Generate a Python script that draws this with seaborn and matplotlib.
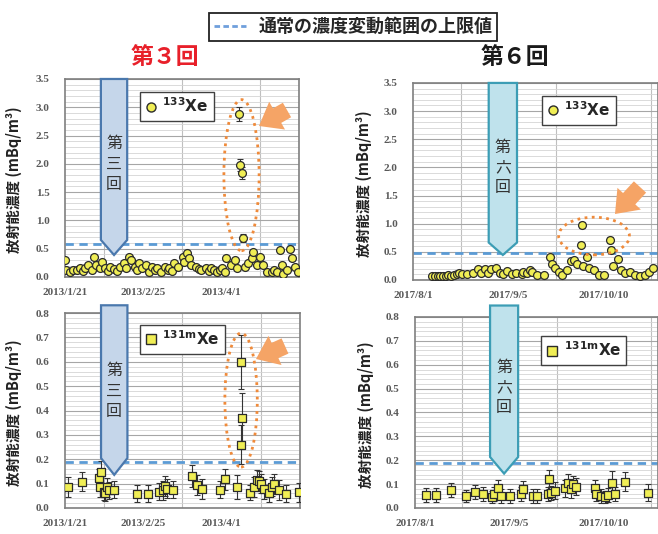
import numpy as np
import pandas as pd
import seaborn as sns
import matplotlib.pyplot as plt
import matplotlib.dates as mdates
import matplotlib.transforms as mtrans
from matplotlib.patches import Polygon, Ellipse, FancyArrowPatch
from matplotlib.lines import Line2D
from matplotlib.ticker import FixedLocator, MultipleLocator, FormatStrFormatter

sns.set_style('white')
plt.rcParams['font.family'] = ['Noto Sans CJK JP', 'DejaVu Sans']
plt.rcParams['mathtext.fontset'] = 'dejavusans'

# ---- data (days after the first tick date) ----
start_3 = '2013-01-21'
start_6 = '2017-08-01'
ticks_3 = ['2013/1/21', '2013/2/25', '2013/4/1']
ticks_6 = ['2017/8/1', '2017/9/5', '2017/10/10']
test_day_3 = 22   # 2013/2/12
test_day_6 = 33   # 2017/9/3

# 133Xe, 3rd test
xe133_3_day = [0, 0.4, 2.2, 3.5, 5.3, 6.8, 8, 9, 10.5, 12, 12.8, 14, 15.5, 16.6, 18, 19.2,
               20.4, 22, 23.2, 24.5, 26.4, 27.5, 28.6, 29.7, 31.2, 32.2, 33.2, 34.7, 36.2,
               37.7, 39.2, 40.3, 41.5, 43, 44.8, 46, 46.8, 48, 49, 50.9, 52.8, 53.5, 54.8,
               55.6, 56.5, 58.8, 60, 61, 63.3, 64.5, 65.6, 67, 68.2, 69.4, 70.5, 71.6, 72.4,
               74.3, 76.2, 77.4, 78.3, 78.4, 79.6, 80, 80.7, 82.2, 83.7, 84.5, 86, 87.5,
               89, 90.5, 92.8, 94, 95, 96.5, 97.3, 98, 99.6, 101, 101.8, 103.3, 104.6]
xe133_3_val = [0.30, 0.12, 0.09, 0.12, 0.12, 0.15, 0.10, 0.15, 0.22, 0.12, 0.36, 0.22, 0.15, 0.27,
               0.15, 0.10, 0.18, 0.14, 0.10, 0.18, 0.24, 0.15, 0.36, 0.30, 0.18, 0.12, 0.24,
               0.15, 0.22, 0.09, 0.18, 0.12, 0.15, 0.09, 0.18, 0.12, 0.15, 0.10, 0.24, 0.18,
               0.36, 0.27, 0.42, 0.33, 0.21, 0.18, 0.14, 0.12, 0.15, 0.10, 0.16, 0.12, 0.09,
               0.12, 0.15, 0.09, 0.33, 0.21, 0.30, 0.15, 2.88, 1.98, 1.84, 0.69, 0.18, 0.24,
               0.33, 0.45, 0.22, 0.36, 0.21, 0.09, 0.09, 0.12, 0.09, 0.48, 0.21, 0.06, 0.12,
               0.49, 0.33, 0.18, 0.09]
xe133_3_err = [0.03] * 60 + [0.13, 0.11, 0.1, 0.07] + [0.03] * 19

# 133Xe, 6th test
xe133_6_day = [7, 8, 9, 10, 11, 12, 13, 14, 15, 16, 17, 18, 20, 21.9, 23.8, 25, 26.3, 27.5,
               28.8, 30.4, 31.9, 33.1, 34.6, 36.2, 38, 39.9, 40.5, 41.8, 43, 43.6, 45.5, 48,
               50.4, 51, 52.3, 53.5, 54.8, 56.6, 57.9, 59.1, 60.3, 61.6, 62.2, 62.6, 63.8,
               64.7, 66.5, 68.4, 70.3, 72.5, 72.6, 73.4, 75.2, 76.5, 77.7, 79.6, 81.4, 83.3,
               85.1, 86.6, 88.2]
xe133_6_val = [0.07, 0.07, 0.07, 0.07, 0.07, 0.07, 0.08, 0.07, 0.09, 0.10, 0.12, 0.10, 0.10,
               0.13, 0.19, 0.13, 0.20, 0.13, 0.19, 0.22, 0.13, 0.10, 0.16, 0.10, 0.13, 0.10,
               0.15, 0.13, 0.18, 0.15, 0.09, 0.09, 0.41, 0.29, 0.21, 0.15, 0.09, 0.18, 0.33,
               0.36, 0.29, 0.63, 0.98, 0.24, 0.41, 0.21, 0.18, 0.09, 0.09, 0.71, 0.54, 0.24,
               0.37, 0.18, 0.12, 0.15, 0.09, 0.07, 0.09, 0.15, 0.21]
xe133_6_err = [0.02] * 41 + [0.05, 0.05] + [0.02] * 6 + [0.06, 0.05] + [0.02] * 10

# 131mXe, 3rd test
xe131m_3_day = [1.5, 7.5, 15, 15.8, 16.1, 17.3, 17.9, 18.8, 19.6, 21.9, 32.1, 37, 42.2, 43.7,
                44.8, 45.7, 48.3, 56.6, 58.8, 61.4, 69.4, 71.6, 76.9, 78.7, 78.9, 78.7, 82.5,
                84.5, 86, 86.8, 87.5, 89, 91.3, 92.5, 93.5, 95.5, 98.8, 104.8]
xe131m_3_val = [0.087, 0.108, 0.122, 0.087, 0.148, 0.067, 0.060, 0.085, 0.072, 0.074, 0.058,
                0.058, 0.067, 0.072, 0.090, 0.080, 0.074, 0.131, 0.094, 0.077, 0.074, 0.117,
                0.085, 0.600, 0.370, 0.260, 0.063, 0.087, 0.115, 0.110, 0.100, 0.077, 0.060,
                0.088, 0.098, 0.074, 0.058, 0.064]
xe131m_3_err = [0.04, 0.04, 0.04, 0.04, 0.045, 0.035, 0.03, 0.04, 0.035, 0.035, 0.035, 0.035,
                0.035, 0.04, 0.04, 0.04, 0.035, 0.045, 0.04, 0.04, 0.035, 0.045, 0.05, 0.11,
                0.1, 0.08, 0.03, 0.04, 0.04, 0.04, 0.04, 0.04, 0.035, 0.04, 0.04, 0.04,
                0.035, 0.04]

# 131mXe, 6th test
xe131m_6_day = [4, 7.9, 13.5, 18.8, 22.2, 25.3, 28.4, 29.4, 30.9, 31.8, 35.3, 39.3, 40.1,
                43.6, 45.2, 49.2, 49.6, 50.4, 51.9, 55.4, 56.6, 57.9, 58.5, 59.7, 66.8, 67.2,
                69, 70.3, 71.5, 73, 74, 77.7, 86.4]
xe131m_6_val = [0.055, 0.054, 0.075, 0.050, 0.068, 0.059, 0.047, 0.060, 0.082, 0.050, 0.050,
                0.059, 0.078, 0.050, 0.050, 0.059, 0.120, 0.063, 0.073, 0.082, 0.106, 0.078,
                0.100, 0.090, 0.082, 0.060, 0.050, 0.047, 0.054, 0.106, 0.059, 0.110, 0.064]
xe131m_6_err = [0.03, 0.03, 0.03, 0.025, 0.03, 0.03, 0.025, 0.03, 0.035, 0.03, 0.03, 0.03,
                0.035, 0.03, 0.03, 0.03, 0.04, 0.03, 0.035, 0.035, 0.035, 0.035, 0.035, 0.035,
                0.035, 0.03, 0.03, 0.025, 0.03, 0.05, 0.03, 0.04, 0.035]

limits = {'xe133_3': 0.58, 'xe133_6': 0.48, 'xe131m_3': 0.19, 'xe131m_6': 0.19}

yellow = '#f0ee55'
edge = '#2b2b2b'


fig = plt.figure(figsize=(6.58, 5.34), dpi=100)


def panel(rect, start, ticks, span, days, vals, errs, marker, size, label, limit,
          ymax, ystep, ysub, test_day, half_w, arrow_y, char_y, fill, line, kanji, leg_xy):
    ax = fig.add_axes(rect)
    x0 = mdates.date2num(pd.Timestamp(start))
    df = pd.DataFrame({'x': x0 + np.array(days), 'v': vals, 'e': errs})

    ax.errorbar(df['x'], df['v'], yerr=df['e'], fmt='none', ecolor='#333333',
                elinewidth=0.8, capsize=2.2, capthick=0.8, zorder=3)
    sns.scatterplot(data=df, x='x', y='v', marker=marker, s=size, color=yellow,
                    edgecolor=edge, linewidth=0.9, ax=ax, zorder=4, legend=False)
    ax.axhline(limit, color='#5b9bd5', lw=2, ls=(0, (3, 2)), zorder=2)

    ax.set_xlim(x0, x0 + span)
    ax.set_ylim(0, ymax)
    ax.set_xticks([x0 + 35 * k for k in range(len(ticks))])
    ax.set_xticklabels(ticks)
    ax.xaxis.set_minor_locator(FixedLocator([x0 + 17.5 * k for k in range(7)]))
    ax.yaxis.set_major_locator(MultipleLocator(ystep))
    ax.yaxis.set_minor_locator(MultipleLocator(ysub))
    ax.yaxis.set_major_formatter(FormatStrFormatter('%.1f'))
    ax.grid(True, which='major', axis='y', color='#a6a6a6', lw=0.8)
    ax.grid(True, which='minor', axis='y', color='#d4d4d4', lw=0.6)
    ax.grid(True, which='minor', axis='x', color='#bfbfbf', lw=0.8)
    ax.set_axisbelow(True)
    ax.tick_params(which='both', length=0)
    ax.tick_params(axis='y', pad=11, labelsize=8, labelcolor='#595959')
    ax.tick_params(axis='x', pad=8, labelsize=8, labelcolor='#595959')
    for t in ax.get_xticklabels() + ax.get_yticklabels():
        t.set_fontfamily('Liberation Serif')
        t.set_fontweight('bold')
    for s in ax.spines.values():
        s.set_color('#7f7f7f')
        s.set_linewidth(1.2)
    ax.set_xlabel('')
    ax.set_ylabel('放射能濃度 (mBq/m³)', fontsize=10.5, fontweight='bold', color='#222222')

    # test marker arrow
    trans = mtrans.blended_transform_factory(ax.transData, ax.transAxes)
    c = x0 + test_day
    top, shoulder, tip = arrow_y
    ax.add_patch(Polygon([(c - half_w, top), (c + half_w, top), (c + half_w, shoulder),
                          (c, tip), (c - half_w, shoulder)], closed=True, transform=trans,
                         facecolor=fill, edgecolor=line, lw=1.6, clip_on=False, zorder=5))
    ax.text(c, char_y, kanji, transform=trans, ha='center', va='center', fontsize=11.5,
            linespacing=1.25, color='#333333', zorder=6)

    h = Line2D([], [], marker=marker, ls='none', markerfacecolor=yellow,
               markeredgecolor=edge, markersize=6.5)
    leg = ax.legend(handles=[h], labels=[label], loc='upper left', bbox_to_anchor=leg_xy,
                    frameon=True, fancybox=False, edgecolor='#404040', framealpha=1,
                    fontsize=11, handlelength=0.7, handletextpad=0.4, borderpad=0.35,
                    borderaxespad=0)
    leg.get_frame().set_linewidth(1.0)
    leg.set_zorder(7)
    return ax, x0


blue_fill, blue_line = '#c5d6ea', '#4a78ad'
cyan_fill, cyan_line = '#bfe2ec', '#3c9db5'

ax1, x1 = panel([0.0988, 0.4813, 0.3556, 0.3708], start_3, ticks_3, 105, xe133_3_day,
                xe133_3_val, xe133_3_err, 'o', 32, r'$^{\mathbf{133}}\mathbf{Xe}$',
                limits['xe133_3'], 3.5, 0.5, 0.1, test_day_3, 5.9, (1.0, 0.187, 0.111),
                0.57, blue_fill, blue_line, '第\n三\n回', (0.32, 0.935))
ax2, x2 = panel([0.6277, 0.4757, 0.3723, 0.369], start_6, ticks_6, 90, xe133_6_day,
                xe133_6_val, xe133_6_err, 'o', 32, r'$^{\mathbf{133}}\mathbf{Xe}$',
                limits['xe133_6'], 3.5, 0.5, 0.1, test_day_6, 5.2, (1.0, 0.19, 0.127),
                0.57, cyan_fill, cyan_line, '第\n六\n回', (0.527, 0.935))
ax3, x3 = panel([0.0988, 0.0487, 0.357, 0.365], start_3, ticks_3, 105, xe131m_3_day,
                xe131m_3_val, xe131m_3_err, 's', 26, r'$^{\mathbf{131m}}\mathbf{Xe}$',
                limits['xe131m_3'], 0.8, 0.1, 0.02, test_day_3, 5.9, (1.04, 0.256, 0.17),
                0.6, blue_fill, blue_line, '第\n三\n回', (0.32, 0.94))
ax4, x4 = panel([0.6307, 0.0487, 0.3693, 0.3577], start_6, ticks_6, 90, xe131m_6_day,
                xe131m_6_val, xe131m_6_err, 's', 26, r'$^{\mathbf{131m}}\mathbf{Xe}$',
                limits['xe131m_6'], 0.8, 0.1, 0.02, test_day_6, 5.2, (1.06, 0.267, 0.18),
                0.63, cyan_fill, cyan_line, '第\n六\n回', (0.52, 0.9))

for ax in (ax1, ax3):
    ax.yaxis.set_label_coords(-0.185, 0.49)
for ax in (ax2, ax4):
    ax.yaxis.set_label_coords(-0.168, 0.49)

# orange dotted ellipses around the anomalous values
orange = '#ef8a3a'
ax1.add_patch(Ellipse((x1 + 79.2, 1.8), 15.8, 2.67, fill=False, ec=orange, lw=2,
                      ls=(0, (1, 1.6)), zorder=6))
ax2.add_patch(Ellipse((x2 + 66.5, 0.78), 26, 0.67, fill=False, ec=orange, lw=2,
                      ls=(0, (1, 1.6)), zorder=6))
ax3.add_patch(Ellipse((x3 + 78.7, 0.443), 14.5, 0.55, fill=False, ec=orange, lw=2,
                      ls=(0, (1, 1.6)), zorder=6))


def fat_arrow(tail, head):
    fig.patches.append(FancyArrowPatch(
        (tail[0] / 658, 1 - tail[1] / 534), (head[0] / 658, 1 - head[1] / 534),
        transform=fig.transFigure,
        arrowstyle='simple,head_width=2.3,head_length=1.5,tail_width=1.2',
        mutation_scale=10, fc='#f5a466', ec='none', shrinkA=0, shrinkB=0, zorder=8))


fat_arrow((287, 110), (259, 126))
fat_arrow((640, 187), (615, 214))
fat_arrow((285, 346), (256, 359))

# titles
fig.text(165 / 658, 1 - 57 / 534, '第３回', color='#e8202a', fontsize=16.5,
         fontweight='bold', ha='center', va='center')
fig.text(515 / 658, 1 - 57 / 534, '第６回', color='#1a1a1a', fontsize=16.5,
         fontweight='bold', ha='center', va='center')

# shared legend for the dashed line
lh = Line2D([], [], color='#6f9fdc', lw=2, ls=(0, (2, 1.2)))
fl = fig.legend(handles=[lh], labels=['通常の濃度変動範囲の上限値'], loc='upper center',
                bbox_to_anchor=(0.537, 0.993), fancybox=False, edgecolor='#222222',
                framealpha=1, prop={'weight': 'bold', 'size': 13}, handlelength=1.8,
                handletextpad=0.7, borderpad=0.25)
fl.get_frame().set_linewidth(1.3)

fig.savefig('out.png', dpi=100)
